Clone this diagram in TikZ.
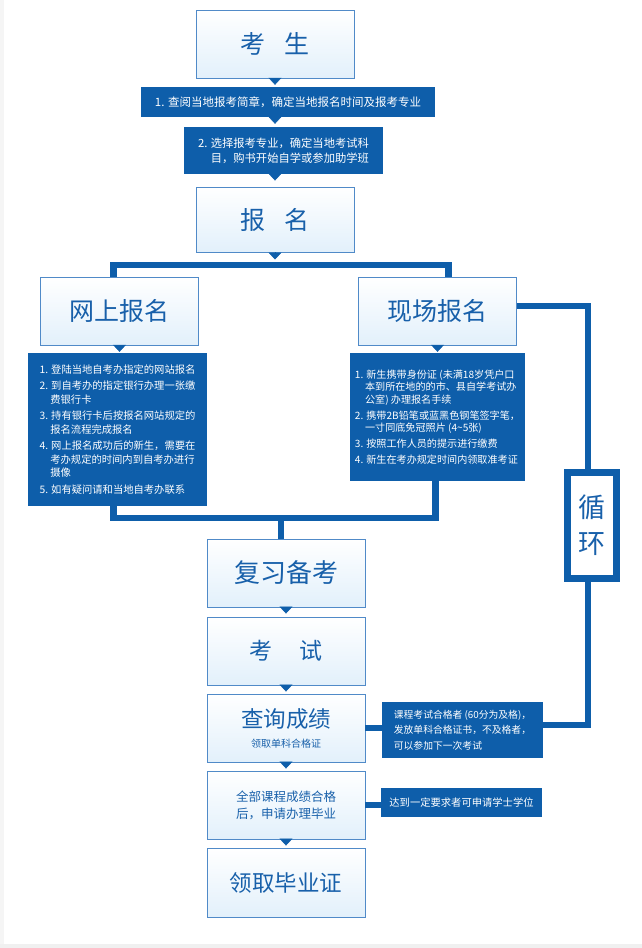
\documentclass[tikz,border=0pt]{standalone}
\usepackage{fontspec}
\setmainfont{Noto Sans CJK SC}
\usetikzlibrary{arrows.meta}

\definecolor{darkblue}{RGB}{14,94,170}
\definecolor{paleblue}{RGB}{226,240,251}
\definecolor{boxline}{RGB}{80,138,200}
\definecolor{titleblue}{RGB}{24,96,170}

\begin{document}
\begin{tikzpicture}[
    x=1pt, y=-1pt,
    lightbox/.style={
        rectangle,
        draw=boxline,
        line width=0.9pt,
        top color=white,
        bottom color=paleblue,
        text=titleblue,
        minimum width=158,
        minimum height=68,
        inner sep=0pt,
        font=\fontsize{25}{30}\selectfont
    },
    darkbox/.style={
        rectangle,
        fill=darkblue,
        text=white,
        inner sep=0pt,
        font=\fontsize{10.3}{13.5}\selectfont
    },
    looptag/.style={
        rectangle,
        draw=darkblue,
        line width=7pt,
        fill=white,
        text=titleblue,
        minimum width=49,
        minimum height=106,
        inner sep=0pt,
        align=center,
        font=\fontsize{27}{36}\selectfont
    },
    tip/.style={
        -{Triangle[width=13pt,length=7pt]},
        draw=darkblue,
        line width=0.5pt
    },
    bar/.style={
        draw=darkblue,
        line width=6.5pt
    }
]

\useasboundingbox (0,0) rectangle (642,948);
\fill[gray!8] (0,0) rectangle (4,948);
\fill[gray!12] (0,944) rectangle (642,948);

% Top column
\node[lightbox] (kaosheng) at (275,44) {考\hspace{0.75em}生};
\node[darkbox, minimum width=294, minimum height=30,
      font=\fontsize{11.5}{14}\selectfont] (step1) at (288,102)
    {1. 查阅当地报考简章，确定当地报名时间及报考专业};
\node[darkbox, minimum width=199, minimum height=47, align=right,
      font=\fontsize{11.3}{15}\selectfont] (step2) at (283.5,150.5)
    {2. 选择报考专业，确定当地考试科\\目，购书开始自学或参加助学班};
\node[lightbox, minimum height=65] (baoming) at (275,219.5) {报\hspace{0.75em}名};

% Two ways to register
\node[lightbox] (wangshang) at (119.5,311) {网上报名};
\node[lightbox] (xianchang) at (437.5,311) {现场报名};

\node[darkbox, minimum width=179, minimum height=153, align=left] (wsSteps) at (117.5,429.5) {
    1. 登陆当地自考办指定的网站报名\\[3pt]
    2. 到自考办的指定银行办理一张缴\\
    \hspace*{1.05em}费银行卡\\[3pt]
    3. 持有银行卡后按报名网站规定的\\
    \hspace*{1.05em}报名流程完成报名\\[3pt]
    4. 网上报名成功后的新生，需要在\\
    \hspace*{1.05em}考办规定的时间内到自考办进行\\
    \hspace*{1.05em}摄像\\[3pt]
    5. 如有疑问请和当地自考办联系};

\node[darkbox, minimum width=175, minimum height=128, align=left,
      font=\fontsize{10.1}{12.5}\selectfont] (xcSteps) at (437.5,417) {
    1. 新生携带身份证 (未满18岁凭户口\\
    \hspace*{1em}本到所在地的的市、县自学考试办\\
    \hspace*{1em}公室) 办理报名手续\\[3.5pt]
    2. 携带2B铅笔或蓝黑色钢笔签字笔，\\
    \hspace*{1em}一寸同底免冠照片 (4\string~5张)\\[3.5pt]
    3. 按照工作人员的提示进行缴费\\[3.5pt]
    4. 新生在考办规定时间内领取准考证};

\node[looptag] (loop) at (592,525.5) {循\\环};

% Bottom column
\node[lightbox, font=\fontsize{26}{30}\selectfont] (fuxi) at (286,573) {复习备考};
\node[lightbox, font=\fontsize{23}{28}\selectfont] (kaoshi) at (286,651) {考\hspace{1.2em}试};
\node[lightbox, align=center, font=\fontsize{22.5}{20}\selectfont] (chaxun) at (286,728)
    {查询成绩\\{\fontsize{10}{12}\selectfont 领取单科合格证}};
\node[darkbox, minimum width=161, minimum height=56, align=left,
      font=\fontsize{9.8}{15.5}\selectfont] (chaxunNote) at (462.5,730) {
    课程考试合格者 (60分为及格)，\\
    发放单科合格证书，不及格者，\\
    可以参加下一次考试};
\node[lightbox, align=center, font=\fontsize{12.5}{17}\selectfont] (biye) at (286,805)
    {全部课程成绩合格\\后，申请办理毕业};
\node[darkbox, minimum width=161, minimum height=29] (biyeNote) at (461.5,802.5)
    {达到一定要求者可申请学士学位};
\node[lightbox, minimum height=69, font=\fontsize{22.5}{28}\selectfont] (lingqu) at (286,882.5) {领取毕业证};

\coordinate (split) at (281,265);
\coordinate (merge) at (281,518);

% Small arrow heads
\draw[tip, shorten >=2pt] (kaosheng.south) -- (kaosheng.south |- step1.north);
\draw[tip, shorten >=3pt] (step1.south -| kaosheng.south) -- (step2.north -| kaosheng.south);
\draw[tip, shorten >=6pt] (step2.south -| kaosheng.south) -- (baoming.north);
\draw[tip, shorten >=5.5pt] (baoming.south) -- (baoming.south |- split);
\draw[tip, shorten >=1pt] (wangshang.south) -- (wsSteps.north -| wangshang.south);
\draw[tip, shorten >=1pt] (xianchang.south) -- (xcSteps.north -| xianchang.south);
\draw[tip, shorten >=3pt] (fuxi.south) -- (kaoshi.north);
\draw[tip, shorten >=2pt] (kaoshi.south) -- (chaxun.north);
\draw[tip, shorten >=2pt] (chaxun.south) -- (biye.north);
\draw[tip, shorten >=2pt] (biye.south) -- (lingqu.north);

% Thick lines
\draw[bar] ([xshift=-6]wangshang.north) |- (split) -| ([xshift=11]xianchang.north);
\draw[bar] ([xshift=-4]wsSteps.south) |- (merge) -| ([xshift=-2]xcSteps.south);
\draw[bar] (merge) -- (merge |- fuxi.north);
\draw[bar] ([yshift=5]xianchang.east) -| ([xshift=-4]loop.north);
\draw[bar] ([xshift=-4]loop.south) |- ([yshift=5]chaxunNote.east);
\draw[bar] (chaxun.east) -- (chaxun.east -| chaxunNote.west);
\draw[bar] (biye.east) -- (biye.east -| biyeNote.west);

\end{tikzpicture}
\end{document}
